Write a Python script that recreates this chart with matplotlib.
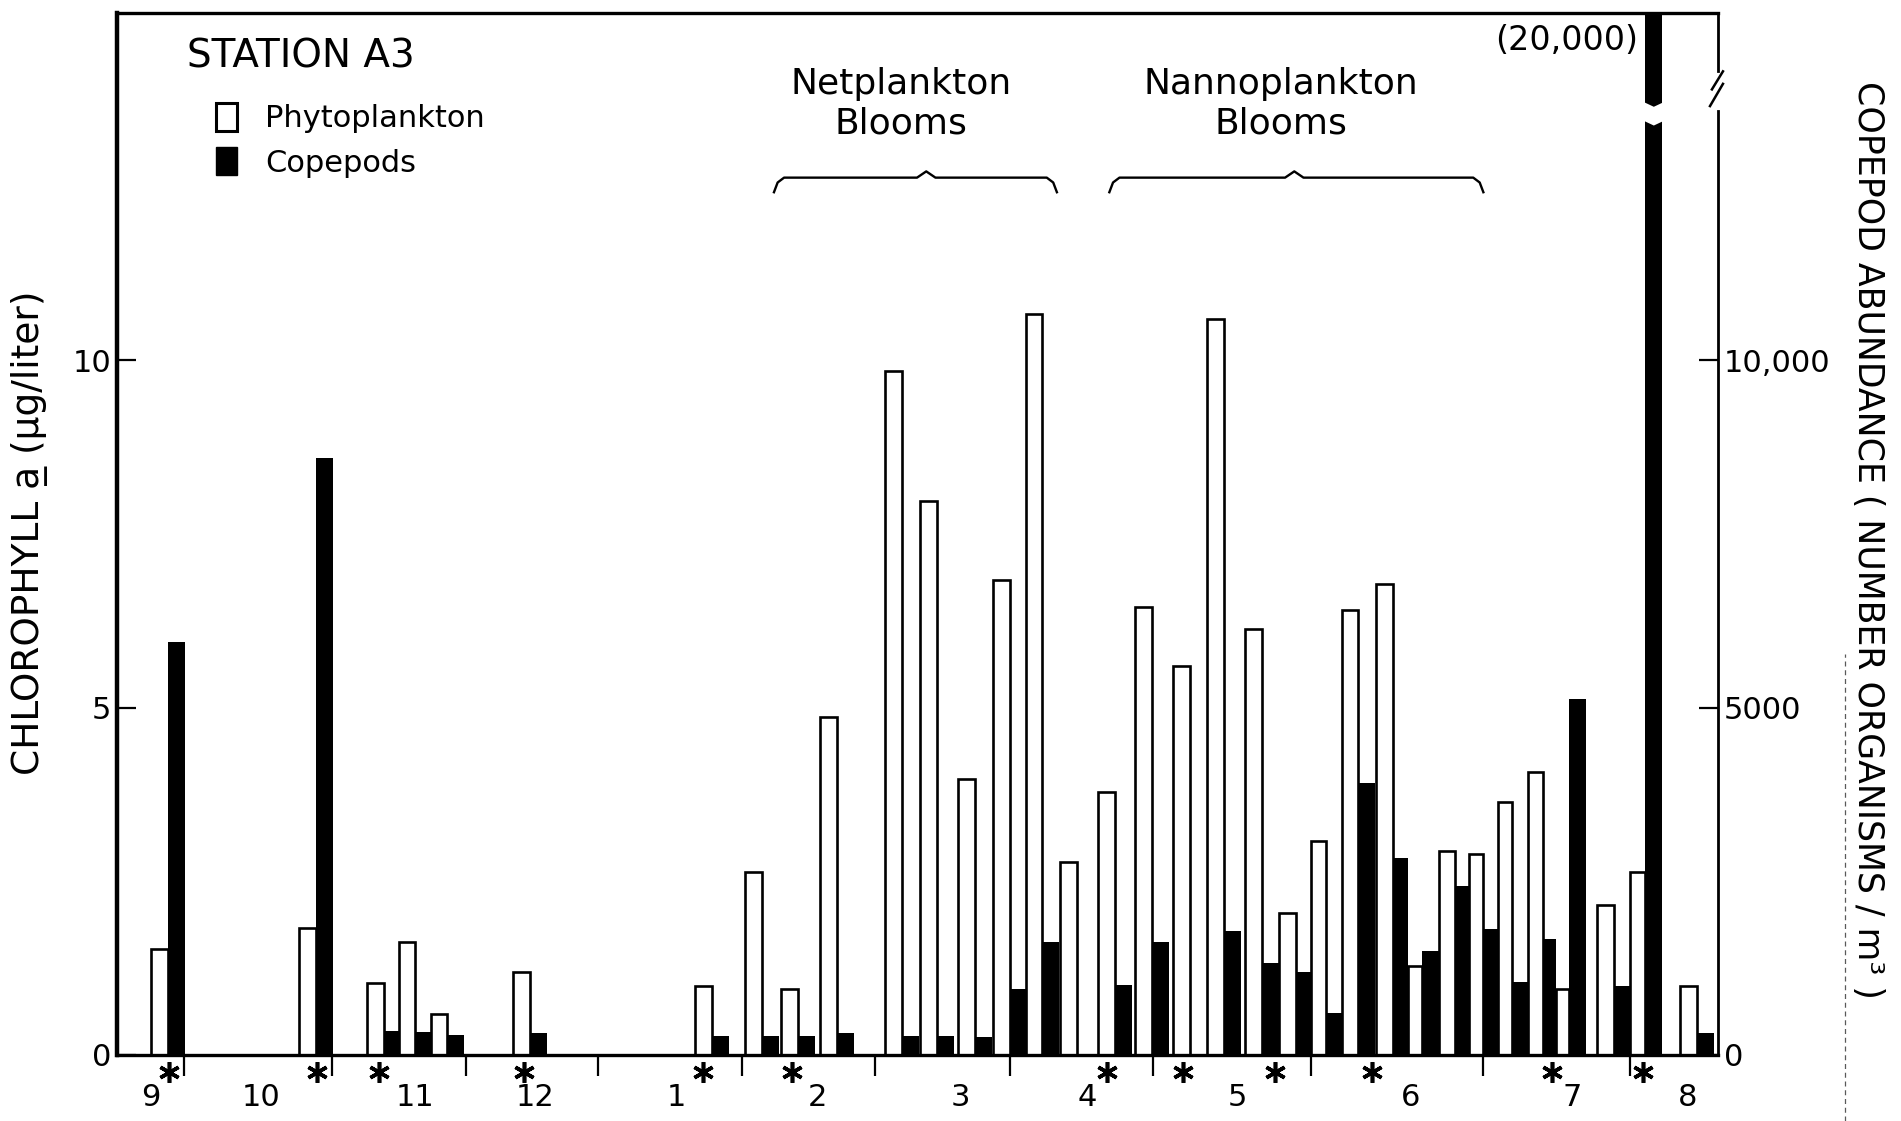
import numpy as np
import matplotlib
matplotlib.use("Agg")
import matplotlib.pyplot as plt
from matplotlib.lines import Line2D
from matplotlib.patches import Patch

# sampling dates, counted in days along the time axis
sample_day = [11.1, 43.3, 58.0, 64.8, 71.7, 89.8, 129.3, 140.2, 148.0, 156.5,
              170.7, 178.3, 186.5, 194.1, 201.1, 208.7, 217.0, 225.0, 233.3, 240.7,
              248.9, 256.3, 262.8, 269.8, 277.4, 283.7, 290.9, 297.0, 303.3, 310.0,
              315.7, 325.4, 332.2, 343.5]
# chlorophyll a (ug/liter)
phyto = [1.52, 1.83, 1.04, 1.63, 0.59, 1.20, 1.00, 2.64, 0.95, 4.86,
         9.84, 7.97, 3.98, 6.84, 10.67, 2.78, 3.79, 6.45, 5.60, 10.60,
         6.13, 2.05, 3.08, 6.41, 6.78, 1.28, 2.93, 2.89, 3.64, 4.07,
         0.95, 2.16, 2.64, 0.99]
# copepods (number of organisms / m3)
copepods = [5950, 8600, 350, 330, 290, 310, 280, 280, 280, 310,
            280, 280, 260, 950, 1630, 0, 1010, 1630, 0, 1790,
            1320, 1190, 600, 3920, 2840, 1490, 2430, 1820, 1050, 1670,
            5130, 990, 20000, 310]

month_breaks = [14.6, 46.7, 75.9, 104.6, 135.9, 164.8, 194.1, 225.2, 259.6, 297.0, 328.9]
month_names = ["9", "10", "11", "12", "1", "2", "3", "4", "5", "6", "7", "8"]
month_label_day = [7.3, 31.3, 64.8, 90.9, 121.5, 152.2, 183.3, 210.9, 243.5, 281.1, 316.3, 341.5]
star_day = [11.3, 43.4, 57.0, 88.5, 127.4, 146.7, 215.2, 231.7, 251.7, 272.8, 312.0, 331.7]

blooms = [("Netplankton\nBlooms", 142.8, 175.9, 204.3, 170.5),
          ("Nannoplankton\nBlooms", 215.7, 255.9, 297.0, 253.0)]

fig = plt.figure(figsize=(19.01, 11.21), dpi=100)
ax = fig.add_axes([117 / 1901, 66 / 1121, 1601 / 1901, 1042 / 1121])
ax2 = ax.twinx()

day = np.array(sample_day)
gaps = np.diff(day)
w0 = 3.7
w_left = np.minimum(w0, np.r_[2 * w0, gaps] / 2)
w_right = np.minimum(w0, np.r_[gaps, 2 * w0] / 2)

ax.bar(day - w_left, phyto, width=w_left, align="edge",
       facecolor="white", edgecolor="black", linewidth=1.9)
ax2.bar(day, copepods, width=w_right, align="edge", color="black", linewidth=0)

ax.set_xlim(0, 348)
ax.set_ylim(0, 15)
ax2.set_ylim(0, 15000)

# y axes
ax.set_yticks([0, 5, 10])
ax.set_yticklabels(["0", "5", "10"])
ax.tick_params(axis="y", direction="in", length=14, width=1.6, labelsize=22, pad=4)
ax2.set_yticks([0, 5000, 10000])
ax2.set_yticklabels(["0", "5000", "10,000"])
ax2.tick_params(axis="y", direction="in", length=14, width=1.6, labelsize=22, pad=4)

# month dividers below the axis, month numbers between them
ax.set_xticks(month_breaks)
ax.set_xticklabels([])
ax.set_xticks(month_label_day, minor=True)
ax.set_xticklabels(month_names, minor=True)
ax.tick_params(axis="x", which="major", direction="out", length=15, width=1.6)
ax.tick_params(axis="x", which="minor", length=0, pad=20, labelsize=22)

ax.spines["left"].set_linewidth(3.2)
ax.spines["bottom"].set_linewidth(2.4)
ax.spines["top"].set_linewidth(2.4)
ax.spines["right"].set_visible(False)
for s in ["left", "top", "bottom"]:
    ax2.spines[s].set_visible(False)
ax2.spines["right"].set_linewidth(2.0)
ax2.spines["right"].set_bounds(0, 13590)

# broken right axis
yt = ax2.get_yaxis_transform()
ax2.plot([1, 1], [14160, 15000], transform=yt, color="black", lw=2.0, clip_on=False)
ax2.plot([0.9962, 1.0031], [13900, 14160], transform=yt, color="black", lw=1.8, clip_on=False)
ax2.plot([0.9950, 1.0031], [13660, 13980], transform=yt, color="black", lw=1.8, clip_on=False)

# break in the off-scale copepod bar
big = int(np.argmax(copepods))
x0 = day[big] - 0.4
x1 = day[big] + w_right[big] + 0.4
xc = (x0 + x1) / 2
ax2.fill([x0, xc, x1, x1, xc, x0], [13720, 13650, 13720, 13450, 13380, 13450],
         color="white", zorder=5, linewidth=0)
ax.text(day[big] - 1.5, 14.6, "({:,})".format(copepods[big]), ha="right", va="center",
        fontsize=24)

# asterisks under the axis
ax.plot(star_day, [-0.016] * len(star_day), transform=ax.get_xaxis_transform(),
        linestyle="none", marker=(6, 2, 0), markersize=15, markeredgewidth=2.6,
        color="black", clip_on=False)

# bloom periods
for label, start, mid, end, text_x in blooms:
    ax.plot([start, start + 0.8, start + 2.2, mid - 2.0, mid, mid + 2.0, end - 2.2, end - 0.8, end],
            [12.42, 12.56, 12.63, 12.63, 12.72, 12.63, 12.63, 12.56, 12.42],
            color="black", lw=1.7)
    ax.text(text_x, 13.70, label, ha="center", va="center", fontsize=26, linespacing=1.2)

ax.text(0.0437, 0.958, "STATION A3", transform=ax.transAxes, fontsize=28,
        ha="left", va="center")

handles = [Patch(facecolor="white", edgecolor="black", linewidth=2.2),
           Patch(facecolor="black", edgecolor="black")]
ax2.legend(handles, ["Phytoplankton", "Copepods"], loc="upper left",
           bbox_to_anchor=(0.0618, 0.914), frameon=False, fontsize=22,
           handlelength=0.7, handleheight=1.05, handletextpad=0.9,
           labelspacing=0.45, borderaxespad=0, borderpad=0)

fig.text(30 / 1901, 1 - 533 / 1121, "CHLOROPHYLL a\u0332 (\u03bcg/liter)", rotation=90,
         ha="center", va="center", fontsize=27)
fig.text(1868 / 1901, 1 - 540 / 1121, "COPEPOD ABUNDANCE ( NUMBER ORGANISMS / m\u00b3 )",
         rotation=270, ha="center", va="center", fontsize=25)

# faint dashed rule down the right margin
fig.add_artist(Line2D([1845 / 1901, 1845 / 1901], [0, 1 - 654 / 1121],
                      transform=fig.transFigure, color="0.35", lw=0.9,
                      linestyle=(0, (4, 3))))

fig.savefig("out.png", dpi=100, facecolor="white")
